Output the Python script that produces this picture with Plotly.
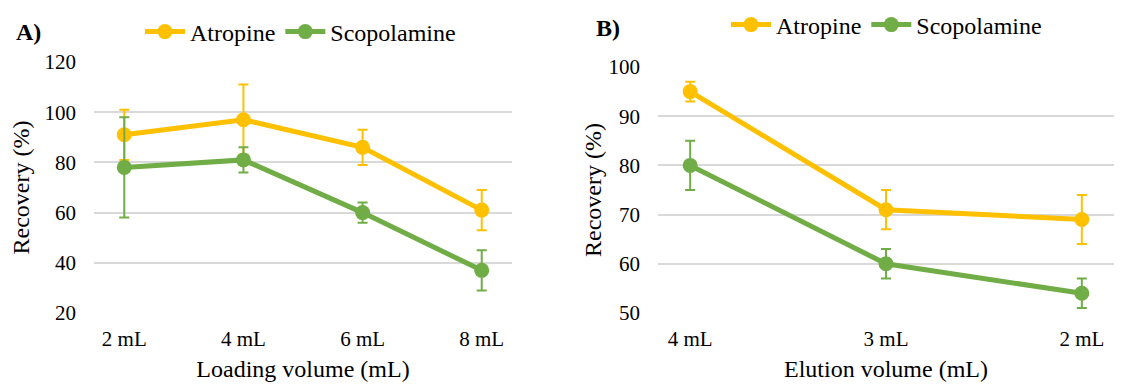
import plotly.graph_objects as go

# Panel A: loading volume study
load_cats = ["2 mL", "4 mL", "6 mL", "8 mL"]
atro_load = [91, 97, 86, 61]
atro_load_err = [10, 14, 7, 8]
scop_load = [78, 81, 60, 37]
scop_load_err = [20, 5, 4, 8]

# Panel B: elution volume study
elu_cats = ["4 mL", "3 mL", "2 mL"]
atro_elu = [95, 71, 69]
atro_elu_err = [2, 4, 5]
scop_elu = [80, 60, 54]
scop_elu_err = [5, 3, 3]

ORANGE = "#FFC000"
GREEN = "#70AD47"
GRID = "#D9D9D9"
FONT = "Liberation Serif"


def series(x, y, err, name, color, xa, ya, legend):
    return go.Scatter(
        x=x, y=y, name=name, mode="lines+markers",
        line=dict(color=color, width=5),
        marker=dict(color=color, size=15),
        error_y=dict(type="data", array=err, visible=True,
                     color=color, thickness=2, width=5),
        xaxis=xa, yaxis=ya, legend=legend,
    )


fig = go.Figure()
fig.add_trace(series(load_cats, atro_load, atro_load_err, "Atropine", ORANGE, "x", "y", "legend"))
fig.add_trace(series(load_cats, scop_load, scop_load_err, "Scopolamine", GREEN, "x", "y", "legend"))
fig.add_trace(series(elu_cats, atro_elu, atro_elu_err, "Atropine", ORANGE, "x2", "y2", "legend2"))
fig.add_trace(series(elu_cats, scop_elu, scop_elu_err, "Scopolamine", GREEN, "x2", "y2", "legend2"))

W, H = 1140, 385
TITLE_FONT = dict(size=24, color="#000", family=FONT)
TICK_FONT = dict(size=21, color="#000", family=FONT)


def xaxis(domain, anchor, text):
    return dict(type="category", domain=domain, anchor=anchor,
                showgrid=False, showline=False, zeroline=False,
                automargin=False, ticks="", tickfont=TICK_FONT,
                ticklabelstandoff=11,
                title=dict(text=text, font=TITLE_FONT, standoff=10))


def yaxis(domain, anchor, rng, step, standoff):
    return dict(domain=domain, anchor=anchor, range=rng, dtick=step,
                showgrid=True, gridcolor=GRID, gridwidth=2, showline=False,
                zeroline=False, automargin=False, ticks="", tickfont=TICK_FONT,
                ticklabelstandoff=17,
                title=dict(text="Recovery (%)", font=TITLE_FONT, standoff=standoff))


legend_common = dict(orientation="h", font=dict(size=24, color="#000", family=FONT),
                     bgcolor="rgba(0,0,0,0)", xanchor="left", yanchor="middle",
                     itemwidth=40, tracegroupgap=0)

fig.update_layout(
    template="none",
    width=W, height=H,
    margin=dict(l=0, r=0, t=0, b=0, autoexpand=False),
    paper_bgcolor="white", plot_bgcolor="white",
    showlegend=True,
    font=dict(family=FONT, color="#000"),
    xaxis=xaxis([94 / W, 512 / W], "y", "Loading volume (mL)"),
    yaxis=yaxis([1 - 313 / H, 1 - 62 / H], "x", [20, 120], 20, 8),
    xaxis2=xaxis([658 / W, 1114 / W], "y2", "Elution volume (mL)"),
    yaxis2=yaxis([1 - 313 / H, 1 - 67 / H], "x2", [50, 100], 10, 0),
    legend=dict(legend_common, x=140 / W, y=1 - 32 / H),
    legend2=dict(legend_common, x=726 / W, y=1 - 25 / H),
    annotations=[
        dict(text="<b>A)</b>", x=14 / W, y=1 - 32 / H, xref="paper", yref="paper",
             xanchor="left", yanchor="middle", showarrow=False,
             font=dict(size=24, color="#000", family=FONT)),
        dict(text="<b>B)</b>", x=594 / W, y=1 - 28 / H, xref="paper", yref="paper",
             xanchor="left", yanchor="middle", showarrow=False,
             font=dict(size=24, color="#000", family=FONT)),
    ],
)

fig.write_html("out.html")
